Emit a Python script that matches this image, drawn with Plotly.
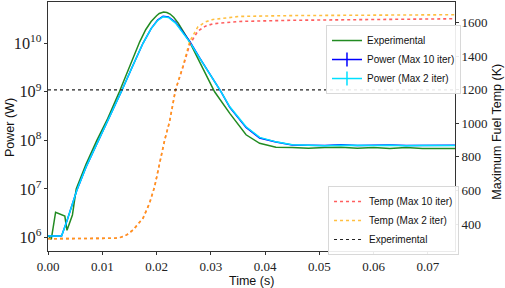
import plotly.graph_objects as go

# ---- data ----
t_exp = [0.0, 0.0006, 0.0014, 0.0031, 0.0035, 0.0045, 0.0052, 0.007, 0.009, 0.011,
         0.01315, 0.015, 0.0169, 0.018, 0.019, 0.020, 0.0205, 0.0213, 0.0219, 0.0225,
         0.0232, 0.024, 0.0261, 0.028, 0.0307, 0.0335, 0.0365, 0.039, 0.042, 0.045,
         0.048, 0.051, 0.054, 0.057, 0.060, 0.063, 0.066, 0.069, 0.072, 0.075]
p_exp = [1.1e6, 9.1e5, 3.3e6, 2.75e6, 1.4e6, 2.9e6, 1.0e7, 3.2e7, 1.0e8, 2.8e8,
         1.0e9, 3.2e9, 1.07e10, 1.9e10, 2.8e10, 3.7e10, 4.1e10, 4.4e10, 4.3e10, 4.0e10,
         3.4e10, 2.6e10, 1.07e10, 4.0e9, 1.0e9, 3.6e8, 1.3e8, 8.7e7, 7.2e7, 7.1e7,
         6.9e7, 7.1e7, 7.2e7, 6.9e7, 7.1e7, 6.8e7, 7.1e7, 6.8e7, 6.9e7, 6.8e7]

t_sim = [0.0, 0.0025, 0.0035, 0.0045, 0.0053, 0.007, 0.0093, 0.0113, 0.0135, 0.0155,
         0.0175, 0.019, 0.0202, 0.0212, 0.0222, 0.0235, 0.0261, 0.028, 0.0319, 0.0335,
         0.0365, 0.039, 0.042, 0.045, 0.048, 0.051, 0.054, 0.057, 0.060, 0.063,
         0.066, 0.069, 0.072, 0.075]
p_max10 = [1.07e6, 1.07e6, 2.2e6, 5.0e6, 9.3e6, 2.8e7, 1.0e8, 2.8e8, 1.0e9, 3.2e9,
           1.0e10, 2.0e10, 3.0e10, 3.6e10, 3.5e10, 2.7e10, 1.1e10, 4.9e9, 1.0e9, 4.8e8,
           1.85e8, 1.12e8, 9.2e7, 8.0e7, 7.9e7, 7.8e7, 8.1e7, 7.8e7, 7.9e7, 8.0e7,
           7.8e7, 7.9e7, 8.0e7, 7.9e7]
p_max2 = [1.07e6, 1.07e6, 2.2e6, 5.0e6, 9.3e6, 2.8e7, 1.0e8, 2.8e8, 1.0e9, 3.2e9,
          1.0e10, 2.0e10, 2.95e10, 3.5e10, 3.4e10, 2.6e10, 1.07e10, 4.8e9, 1.0e9, 4.9e8,
          1.9e8, 1.15e8, 9.3e7, 8.1e7, 7.8e7, 7.7e7, 7.9e7, 7.8e7, 7.8e7, 7.9e7,
          7.7e7, 7.8e7, 7.9e7, 7.8e7]

t_temp = [0.0, 0.008, 0.012, 0.0132, 0.0145, 0.01566, 0.0175, 0.0187, 0.01965, 0.02057,
          0.0215, 0.0224, 0.0235, 0.0249, 0.0261, 0.0276, 0.029, 0.0304, 0.0353, 0.045,
          0.06, 0.075]
temp_max10 = [312, 312, 315, 318, 335, 364, 434, 523, 623, 762,
              901, 1010, 1200, 1339, 1470, 1550, 1580, 1594, 1608, 1615,
              1620, 1624]
temp_max2 = [312, 312, 315, 318, 335, 364, 434, 523, 623, 762,
             901, 1010, 1200, 1345, 1488, 1575, 1605, 1620, 1638, 1643,
             1646, 1648]

t_ref = [0.0, 0.075]
temp_ref = [1200, 1200]

x_ticks = [0.0, 0.01, 0.02, 0.03, 0.04, 0.05, 0.06, 0.07]
x_ticklabels = ["0.00", "0.01", "0.02", "0.03", "0.04", "0.05", "0.06", "0.07"]
y2_ticks = [400, 600, 800, 1000, 1200, 1400, 1600]

GREEN = "#228b22"
BLUE = "#0000ff"
CYAN = "#00e0ff"
RED = "rgba(255,40,40,0.75)"
ORANGE = "rgba(255,170,0,0.75)"

fig = go.Figure()

# Power traces (left axis)
fig.add_trace(go.Scatter(x=t_exp, y=p_exp, mode="lines", line=dict(color=GREEN, width=1.5),
                         name="Experimental", legend="legend"))
fig.add_trace(go.Scatter(x=t_sim, y=p_max10, mode="lines", line=dict(color=BLUE, width=1.5),
                         name="Power (Max 10 iter)", showlegend=False))
fig.add_trace(go.Scatter(x=t_sim, y=p_max2, mode="lines", line=dict(color=CYAN, width=1.5),
                         name="Power (Max 2 iter)", showlegend=False))
# legend entries with errorbar-style cross
fig.add_trace(go.Scatter(x=[None], y=[None], mode="lines+markers",
                         line=dict(color=BLUE, width=1.5),
                         marker=dict(symbol="line-ns", size=10, line=dict(color=BLUE, width=1.5)),
                         name="Power (Max 10 iter)", legend="legend"))
fig.add_trace(go.Scatter(x=[None], y=[None], mode="lines+markers",
                         line=dict(color=CYAN, width=1.5),
                         marker=dict(symbol="line-ns", size=10, line=dict(color=CYAN, width=1.5)),
                         name="Power (Max 2 iter)", legend="legend"))

# Temperature traces (right axis)
fig.add_trace(go.Scatter(x=t_temp, y=temp_max10, mode="lines", yaxis="y2",
                         line=dict(color=RED, width=1.6, dash="dot"),
                         name="Temp (Max 10 iter)", legend="legend2"))
fig.add_trace(go.Scatter(x=t_temp, y=temp_max2, mode="lines", yaxis="y2",
                         line=dict(color=ORANGE, width=1.6, dash="dot"),
                         name="Temp (Max 2 iter)", legend="legend2"))
fig.add_trace(go.Scatter(x=t_ref, y=temp_ref, mode="lines", yaxis="y2",
                         line=dict(color="#222222", width=1.2, dash="dot"),
                         name="Experimental", legend="legend2"))

tick_font = dict(family="Liberation Serif, serif", size=13, color="#222")
title_font = dict(family="Liberation Sans, Arial, sans-serif", size=12.5, color="#111")
leg_font = dict(family="Liberation Sans, Arial, sans-serif", size=10, color="#111")

axis_common = dict(showline=True, linecolor="#333", linewidth=1,
                   ticks="outside", ticklen=3, tickcolor="#333", showgrid=False,
                   zeroline=False, tickfont=tick_font, automargin=False)

fig.update_layout(
    width=505, height=288,
    margin=dict(l=48, r=50, t=2, b=37, autoexpand=False),
    paper_bgcolor="white", plot_bgcolor="white",
    xaxis=dict(range=[0, 0.075], tickvals=x_ticks, ticktext=x_ticklabels, mirror=True,
               **axis_common),
    yaxis=dict(type="log", range=[5.72, 10.85], dtick=1, exponentformat="power",
               **axis_common),
    yaxis2=dict(overlaying="y", side="right", range=[239, 1724], tickvals=y2_ticks,
                **axis_common),
    legend=dict(x=0.683, y=0.769, xanchor="left", yanchor="middle",
                bgcolor="rgba(255,255,255,0.9)", bordercolor="#d8d8d8", borderwidth=1,
                font=leg_font, tracegroupgap=0, itemwidth=30),
    legend2=dict(x=0.688, y=0.1225, xanchor="left", yanchor="middle",
                 bgcolor="rgba(255,255,255,0.9)", bordercolor="#d8d8d8", borderwidth=1,
                 font=leg_font, tracegroupgap=0, itemwidth=30),
    showlegend=True,
    annotations=[
        dict(text="Time (s)", x=0.5, y=-0.1205, xref="paper", yref="paper",
             xanchor="center", yanchor="middle", showarrow=False, font=title_font),
        dict(text="Power (W)", x=-0.0934, y=0.498, xref="paper", yref="paper",
             xanchor="center", yanchor="middle", showarrow=False, font=title_font,
             textangle=-90),
        dict(text="Maximum Fuel Temp (K)", x=1.1025, y=0.478, xref="paper", yref="paper",
             xanchor="center", yanchor="middle", showarrow=False, font=title_font,
             textangle=-90),
    ],
)

fig.write_html("out.html", config={"displayModeBar": False},
               post_script="document.body.style.margin='0px';document.body.style.overflow='hidden';")
